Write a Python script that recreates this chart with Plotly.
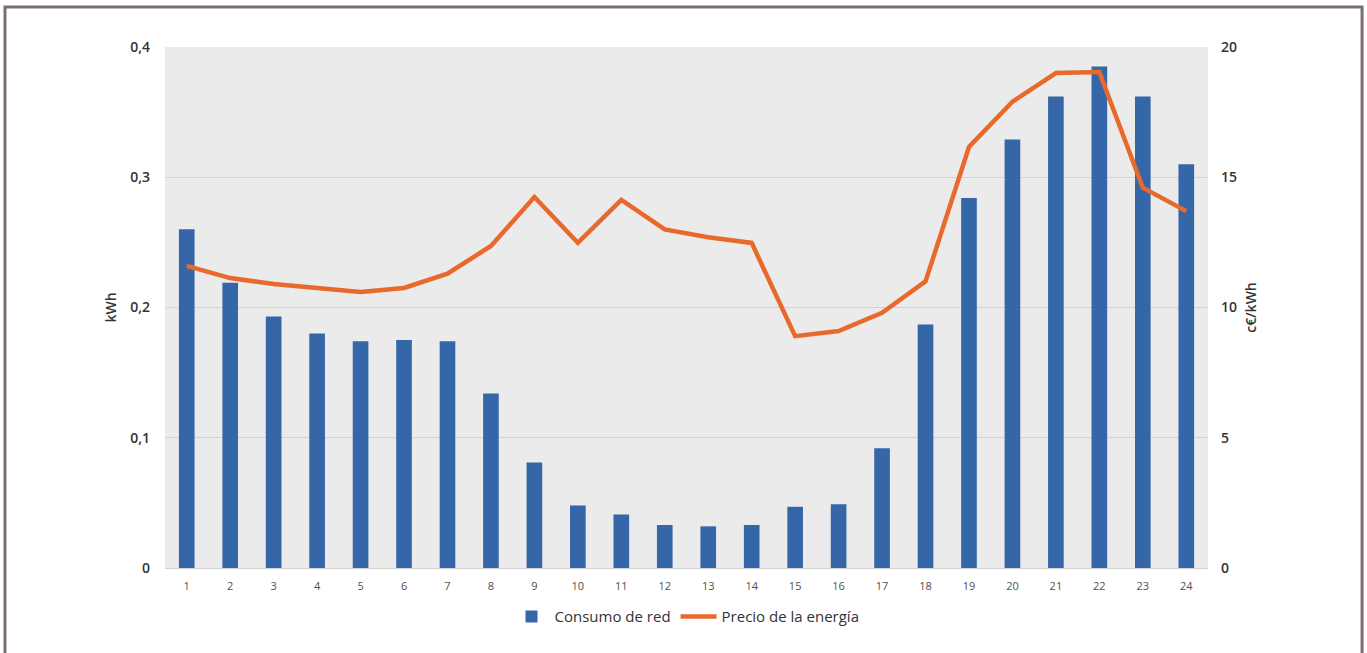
import plotly.graph_objects as go

hours = [str(i) for i in range(1, 25)]
consumo = [0.26, 0.219, 0.193, 0.180, 0.174, 0.175, 0.174, 0.134, 0.081, 0.048, 0.041, 0.033,
           0.032, 0.033, 0.047, 0.049, 0.092, 0.187, 0.284, 0.329, 0.362, 0.385, 0.362, 0.310]
precio = [11.6, 11.13, 10.9, 10.75, 10.6, 10.75, 11.3, 12.36, 14.24, 12.48, 14.13, 13.0,
          12.7, 12.48, 8.9, 9.1, 9.8, 11.0, 16.16, 17.9, 19.0, 19.04, 14.6, 13.7]
left_ticks = [0, 0.1, 0.2, 0.3, 0.4]
left_labels = ["0", "0,1", "0,2", "0,3", "0,4"]
right_ticks = [0, 5, 10, 15, 20]

FONT = "Open Sans"
fig = go.Figure()
fig.add_trace(go.Bar(x=hours, y=consumo, name="Consumo de red", marker=dict(color="#3566a8", line=dict(width=0)),
                     width=0.36, yaxis="y"))
fig.add_trace(go.Scatter(x=hours, y=precio, name="Precio de la energía", mode="lines",
                         line=dict(color="#e8692c", width=4.5), yaxis="y2"))

fig.update_layout(
    width=1367, height=653,
    margin=dict(l=165, r=159, t=47, b=85),
    paper_bgcolor="white", plot_bgcolor="#ebebeb",
    font=dict(family=FONT, color="#404040"),
    showlegend=True,
    legend=dict(orientation="h", x=0.5, xanchor="center", y=-0.062, yanchor="top",
                font=dict(size=15, color="#333333"), bgcolor="rgba(0,0,0,0)", itemwidth=36),
    xaxis=dict(type="category", showgrid=False, tickfont=dict(size=11, color="#505050"),
               ticks="", showline=True, linecolor="#d0d0d0", linewidth=1, ticklabelstandoff=8),
    yaxis=dict(range=[0, 0.4], tickvals=left_ticks, ticktext=left_labels, showgrid=True,
               gridcolor="#d2d2d2", gridwidth=1, zeroline=False,
               tickfont=dict(size=14, color="#333333", family=FONT, weight=600), ticklabelstandoff=14,
               title=dict(text="kWh", font=dict(size=14, color="#333333", weight=600), standoff=10)),
    yaxis2=dict(range=[0, 20], tickvals=right_ticks, overlaying="y", side="right", showgrid=False,
                zeroline=False, tickfont=dict(size=14, color="#333333", weight=600), ticklabelstandoff=12,
                title=dict(text="c€/kWh", font=dict(size=14, color="#333333", weight=600), standoff=10)),
    bargap=0.6,
)
fig.add_shape(type="rect", xref="paper", yref="paper", x0=-0.1534, x1=1.1477, y0=-0.3, y1=1.0768,
              line=dict(color="#7a6e6e", width=3), fillcolor="rgba(0,0,0,0)", layer="above")
fig.write_html("out.html")
